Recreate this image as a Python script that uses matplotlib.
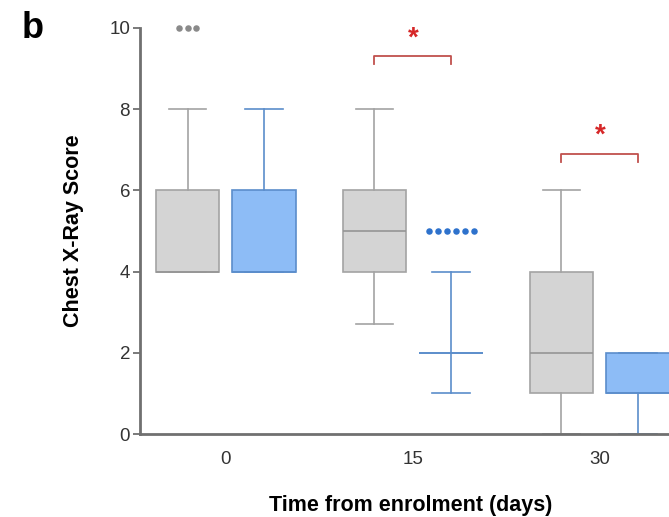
import numpy as np
import matplotlib.pyplot as plt

plt.rcParams["font.family"] = ["Liberation Sans", "DejaVu Sans"]

days = ["0", "15", "30"]

# standard-care group (grey)
std_q1 = [4, 4, 1]
std_med = [4, 5, 2]
std_q3 = [6, 6, 4]
std_lo = [4, 2.7, 0]
std_hi = [8, 8, 6]
std_fliers = [[10, 10, 10], [], []]

# treated group (blue)
trt_q1 = [4, 2, 1]
trt_med = [4, 2, 1]
trt_q3 = [6, 2, 2]
trt_lo = [4, 1, 0]
trt_hi = [8, 4, 2]
trt_fliers = [[], [5, 5, 5, 5, 5, 5], []]

# significance brackets: (group index, bracket height, label)
sig_groups = [1, 2]
sig_heights = [9.3, 6.9]
sig_labels = ["*", "*"]

GREY_FILL, GREY_EDGE, GREY_DOT = "#d4d4d4", "#a3a3a3", "#8a8a8a"
BLUE_FILL, BLUE_EDGE, BLUE_DOT = "#8dbcf6", "#5b8dcb", "#2e72cc"
OFF, WIDTH = 0.205, 0.34

fig = plt.figure(figsize=(6.69, 5.17), dpi=100)
ax = fig.add_axes([0.209, 0.1605, 0.791, 0.7855])

x = np.arange(len(days))


def stats(q1, med, q3, lo, hi):
    return [dict(q1=a, med=b, q3=c, whislo=d, whishi=e, fliers=[])
            for a, b, c, d, e in zip(q1, med, q3, lo, hi)]


def draw(st, pos, fill, edge, med_col):
    ax.bxp(st, positions=pos, widths=WIDTH, capwidths=0.2, patch_artist=True,
           showfliers=False,
           boxprops=dict(facecolor=fill, edgecolor=edge, linewidth=1.2),
           medianprops=dict(color=med_col, linewidth=1.2),
           whiskerprops=dict(color=edge, linewidth=1.2),
           capprops=dict(color=edge, linewidth=1.2))


def draw_fliers(fliers, pos, color):
    for p, vals in zip(pos, fliers):
        n = len(vals)
        if n == 0:
            continue
        offs = (np.arange(n) - (n - 1) / 2) * 0.048
        ax.scatter(p + offs, vals, s=22, color=color, zorder=1, clip_on=False,
                   linewidths=0)


draw(stats(std_q1, std_med, std_q3, std_lo, std_hi), x - OFF, GREY_FILL, GREY_EDGE, "#959595")
draw(stats(trt_q1, trt_med, trt_q3, trt_lo, trt_hi), x + OFF, BLUE_FILL, BLUE_EDGE, BLUE_EDGE)
draw_fliers(std_fliers, x - OFF, GREY_DOT)
draw_fliers(trt_fliers, x + OFF, BLUE_DOT)

for g, h, lab in zip(sig_groups, sig_heights, sig_labels):
    x0, x1 = g - OFF, g + OFF
    ax.plot([x0, x0, x1, x1], [h - 0.2, h, h, h - 0.2], color="#c0504d", lw=1.3)
    ax.text(g, h + 0.12, lab, color="#d62728", ha="center", va="bottom",
            fontsize=20, fontweight="bold")

ax.set_xlim(-0.46, 2.37)
ax.set_ylim(0, 10)
ax.set_xticks(x)
ax.set_xticklabels(days)
ax.set_yticks([0, 2, 4, 6, 8, 10])
ax.tick_params(axis="x", length=0, labelsize=13.5, colors="#333333", pad=12)
ax.tick_params(axis="y", length=5, width=1.3, labelsize=13.5, colors="#707070",
               labelcolor="#333333", pad=2)

for side in ["top", "right"]:
    ax.spines[side].set_visible(False)
for side in ["left", "bottom"]:
    ax.spines[side].set_color("#707070")
    ax.spines[side].set_linewidth(2)
    ax.spines[side].set_zorder(5)

ax.set_ylabel("Chest X-Ray Score", fontsize=15.5, fontweight="bold")
ax.yaxis.set_label_coords(-0.105, 0.50)
ax.set_xlabel("Time from enrolment (days)", fontsize=15.5, fontweight="bold")
ax.xaxis.set_label_coords(0.512, -0.15)

fig.text(0.033, 0.978, "b", fontsize=26, fontweight="bold", va="top")

fig.savefig("out.png", dpi=100)
